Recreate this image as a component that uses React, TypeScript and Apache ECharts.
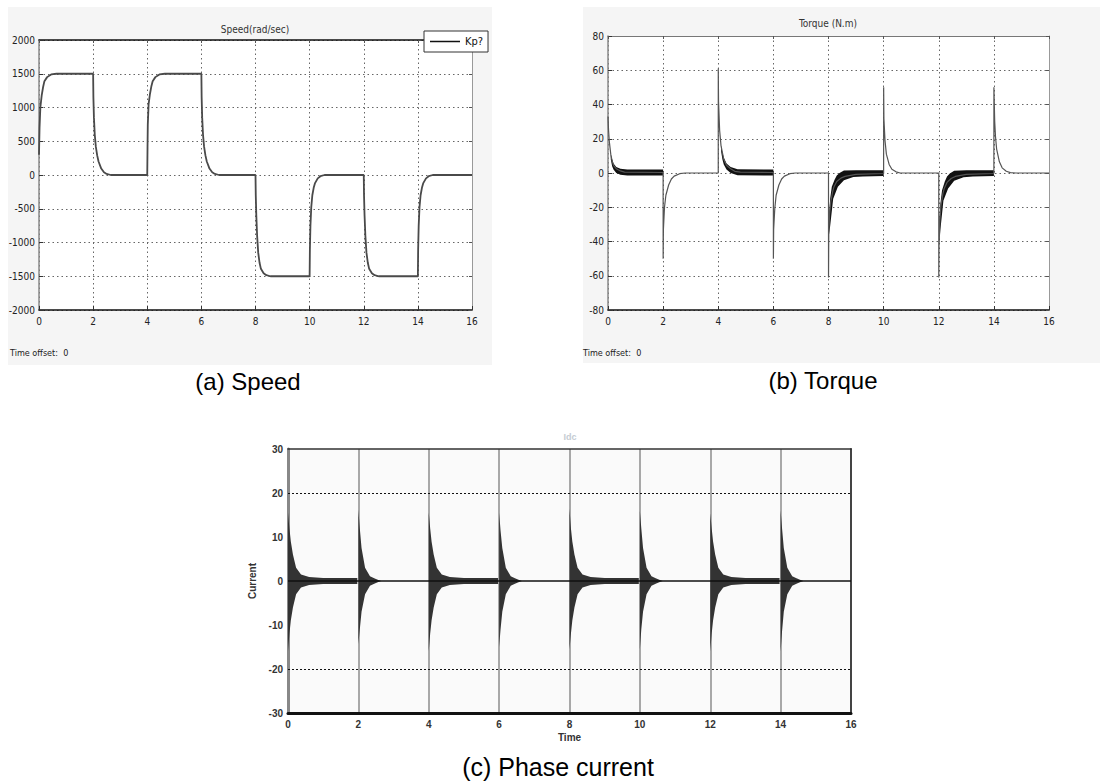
import React, { useEffect, useRef } from "react";
import * as echarts from "echarts";

type Pt = [number, number];

// ---- axis ranges ----
const timeRange = { min: 0, max: 16, step: 2 };
const speedRange = { min: -2000, max: 2000, step: 500 };
const torqueRange = { min: -80, max: 80, step: 20 };
const currentRange = { min: -30, max: 30, step: 10 };

// ---- (a) rotor speed, rad/sec ----
const speedPoints: Pt[] = [
  [0, 300], [0.02, 700], [0.05, 1000], [0.1, 1180], [0.15, 1300], [0.2, 1390], [0.3, 1450], [0.45, 1490], [0.65, 1500], [2.0, 1500],
  [2.01, 1150], [2.03, 850], [2.06, 600], [2.1, 420], [2.15, 290], [2.2, 200], [2.3, 95], [2.4, 40], [2.5, 15], [2.65, 0], [4.0, 0],
  [4.01, 400], [4.02, 750], [4.05, 1050], [4.1, 1200], [4.15, 1310], [4.2, 1390], [4.3, 1450], [4.45, 1490], [4.65, 1500], [6.0, 1500],
  [6.01, 1150], [6.03, 850], [6.06, 600], [6.1, 420], [6.15, 290], [6.2, 200], [6.3, 95], [6.4, 40], [6.5, 15], [6.65, 0], [8.0, 0],
  [8.01, -300], [8.03, -600], [8.06, -900], [8.1, -1150], [8.15, -1300], [8.2, -1390], [8.3, -1455], [8.4, -1485], [8.55, -1500], [10.0, -1500],
  [10.01, -1100], [10.03, -750], [10.06, -480], [10.1, -300], [10.15, -190], [10.2, -120], [10.3, -50], [10.4, -18], [10.55, 0], [12.0, 0],
  [12.01, -300], [12.03, -600], [12.06, -900], [12.1, -1150], [12.15, -1300], [12.2, -1390], [12.3, -1455], [12.4, -1485], [12.55, -1500], [14.0, -1500],
  [14.01, -1100], [14.03, -750], [14.06, -480], [14.1, -300], [14.15, -190], [14.2, -120], [14.3, -50], [14.4, -18], [14.55, 0], [16.0, 0],
];

// ---- (b) electromagnetic torque, N.m ----
const torquePoints: Pt[] = [
  [0, 33], [0.02, 25], [0.05, 18], [0.1, 11], [0.15, 7], [0.2, 4.5], [0.3, 2.5], [0.45, 1.2], [0.6, 0.5], [2.0, 0.3],
  [2.001, -50], [2.01, -33], [2.05, -20], [2.1, -13], [2.2, -7], [2.3, -3.5], [2.4, -1.8], [2.6, -0.4], [2.8, 0], [4.0, 0],
  [4.001, 61], [4.01, 42], [4.05, 25], [4.1, 16], [4.2, 8], [4.3, 4.5], [4.45, 2.5], [4.6, 1], [4.8, 0.5], [6.0, 0.3],
  [6.001, -50], [6.01, -33], [6.05, -21], [6.1, -13], [6.2, -7], [6.3, -3.5], [6.4, -1.8], [6.6, -0.4], [6.8, 0], [8.0, 0],
  [8.001, -61], [8.01, -35], [8.04, -24], [8.08, -17], [8.15, -11], [8.2, -8], [8.3, -5], [8.45, -3], [8.6, -2], [9.0, -0.8], [10.0, -0.3],
  [10.001, 50], [10.01, 32], [10.05, 19], [10.1, 11], [10.2, 5], [10.3, 2.2], [10.45, 0.7], [10.6, 0], [12.0, 0],
  [12.001, -61], [12.01, -42], [12.04, -28], [12.08, -19], [12.15, -12], [12.2, -9], [12.3, -5.5], [12.45, -3.2], [12.6, -2], [13.0, -0.8], [14.0, -0.3],
  [14.001, 50], [14.01, 44], [14.03, 30], [14.06, 21], [14.1, 14], [14.2, 6.5], [14.3, 3], [14.45, 1], [14.6, 0.2], [14.8, 0], [16.0, 0],
];

// torque ripple bands (upper / lower edges) while the motor runs
const torqueRippleUpper: Pt[][] = [
  [[0.1, 11], [0.15, 8], [0.2, 5.5], [0.3, 3.5], [0.45, 2.5], [0.7, 2], [2.0, 2]],
  [[4.1, 16], [4.15, 12], [4.2, 9], [4.3, 5.5], [4.45, 3.5], [4.7, 2.2], [6.0, 2]],
  [[8.02, -25], [8.06, -15], [8.12, -8], [8.22, -4], [8.3, -1.5], [8.4, 0], [8.56, 1.4], [9.0, 1.6], [10.0, 1.6]],
  [[12.02, -30], [12.06, -18], [12.12, -10], [12.22, -5], [12.3, -2], [12.4, -0.3], [12.56, 1.3], [13.0, 1.6], [14.0, 1.6]],
];
const torqueRippleLower: Pt[][] = [
  [[0.1, 8], [0.15, 4], [0.2, 2], [0.3, 0], [0.45, -1], [0.7, -1.5], [2.0, -1.5]],
  [[4.1, 13], [4.15, 8], [4.2, 5], [4.3, 2], [4.45, 0], [4.7, -1.3], [6.0, -1.5]],
  [[8.02, -36], [8.06, -31], [8.17, -15], [8.34, -8], [8.56, -4.3], [8.9, -2.3], [9.24, -2], [10.0, -1.8]],
  [[12.02, -42], [12.06, -33], [12.17, -16], [12.34, -9], [12.56, -4.5], [12.9, -2.5], [13.24, -2], [14.0, -1.8]],
];

// ---- (c) phase current bursts (envelope of the oscillation) ----
const currentBurstUpper: Pt[][] = [
  [[0, 15.5], [0.04, 12], [0.08, 9], [0.14, 6], [0.23, 3], [0.37, 1.5], [0.6, 0.9], [1.0, 0.7], [1.97, 0.7]],
  [[2, 16.2], [2.04, 12], [2.09, 7.5], [2.19, 3], [2.33, 1.1], [2.45, 0.6], [2.55, 0.3], [2.65, 0]],
  [[4, 15.5], [4.04, 12], [4.08, 9], [4.14, 6], [4.23, 3], [4.37, 1.5], [4.6, 0.9], [5.0, 0.7], [5.97, 0.7]],
  [[6, 15.5], [6.04, 11.5], [6.09, 7.5], [6.19, 3], [6.33, 1.1], [6.45, 0.6], [6.55, 0.3], [6.65, 0]],
  [[8, 16.4], [8.04, 12], [8.08, 9], [8.14, 6], [8.23, 3], [8.37, 1.5], [8.6, 0.9], [9.0, 0.7], [9.97, 0.7]],
  [[10, 15.9], [10.04, 12], [10.09, 7.5], [10.19, 3], [10.33, 1.1], [10.45, 0.6], [10.55, 0.3], [10.65, 0]],
  [[12, 15.4], [12.04, 12], [12.08, 9], [12.14, 6], [12.23, 3], [12.37, 1.5], [12.6, 0.9], [13.0, 0.7], [13.97, 0.7]],
  [[14, 16], [14.04, 12], [14.09, 7.5], [14.19, 3], [14.33, 1.1], [14.45, 0.6], [14.55, 0.3], [14.65, 0]],
];
const currentBurstLower: Pt[][] = [
  [[0, -15.9], [0.04, -12], [0.08, -9], [0.14, -6], [0.23, -3], [0.37, -1.5], [0.6, -0.9], [1.0, -0.7], [1.97, -0.7]],
  [[2, -14.3], [2.04, -11], [2.09, -7], [2.19, -3], [2.33, -1.1], [2.45, -0.6], [2.55, -0.3], [2.65, 0]],
  [[4, -15.9], [4.04, -12], [4.08, -9], [4.14, -6], [4.23, -3], [4.37, -1.5], [4.6, -0.9], [5.0, -0.7], [5.97, -0.7]],
  [[6, -15], [6.04, -11], [6.09, -7], [6.19, -3], [6.33, -1.1], [6.45, -0.6], [6.55, -0.3], [6.65, 0]],
  [[8, -15.5], [8.04, -12], [8.08, -9], [8.14, -6], [8.23, -3], [8.37, -1.5], [8.6, -0.9], [9.0, -0.7], [9.97, -0.7]],
  [[10, -15.5], [10.04, -11], [10.09, -7], [10.19, -3], [10.33, -1.1], [10.45, -0.6], [10.55, -0.3], [10.65, 0]],
  [[12, -16], [12.04, -12], [12.08, -9], [12.14, -6], [12.23, -3], [12.37, -1.5], [12.6, -0.9], [13.0, -0.7], [13.97, -0.7]],
  [[14, -16], [14.04, -11.5], [14.09, -7], [14.19, -3], [14.33, -1.1], [14.45, -0.6], [14.55, -0.3], [14.65, 0]],
];
const currentTrace: Pt[] = [[0, 0], [16, 0]];
const currentGuides = [20, -20];

const NARROW = "'DejaVu Sans Condensed', 'Liberation Sans Narrow', 'Arial Narrow', 'Liberation Sans', sans-serif";
const SANS = "'Liberation Sans', Arial, sans-serif";

function bandRenderer(uppers: Pt[][], lowers: Pt[][], fill: string) {
  return (_params: any, api: any) => {
    const i = api.value(2);
    const top = uppers[i].map((p) => api.coord(p));
    const bottom = lowers[i].slice().reverse().map((p) => api.coord(p));
    return {
      type: "polygon",
      shape: { points: top.concat(bottom) },
      style: { fill },
      silent: true,
    };
  };
}

const plain = (v: number) => String(v);
const dotted = { color: "#666", width: 1, type: [1.5, 3] as number[] };

function scopeXAxis(gridIndex: number) {
  return [
    {
      type: "value", gridIndex, min: timeRange.min, max: timeRange.max, interval: timeRange.step,
      axisLine: { onZero: false, lineStyle: { color: "#111", width: 1.5 } },
      axisTick: { inside: true, length: 4, lineStyle: { color: "#333" } },
      axisLabel: { fontSize: 10, color: "#222", fontFamily: NARROW, margin: 6, formatter: plain },
      splitLine: { show: true, lineStyle: dotted },
    },
    {
      type: "value", gridIndex, position: "top", min: timeRange.min, max: timeRange.max, interval: timeRange.step,
      axisLine: { onZero: false, lineStyle: { color: gridIndex === 0 ? "#111" : "#777", width: gridIndex === 0 ? 1.5 : 1 } },
      axisTick: { inside: true, length: 3, lineStyle: { color: "#555" } },
      axisLabel: { show: false }, splitLine: { show: false },
    },
  ];
}

function scopeYAxis(gridIndex: number, r: { min: number; max: number; step: number }) {
  return [
    {
      type: "value", gridIndex, min: r.min, max: r.max, interval: r.step,
      axisLine: { show: true, onZero: false, lineStyle: { color: "#888", width: 1.5 } },
      axisTick: { show: true, inside: true, length: 4, lineStyle: { color: "#333" } },
      axisLabel: { fontSize: 10, color: "#222", fontFamily: NARROW, margin: 4, formatter: plain },
      splitLine: { show: true, lineStyle: dotted },
    },
    {
      type: "value", gridIndex, position: "right", min: r.min, max: r.max, interval: r.step,
      axisLine: { show: true, onZero: false, lineStyle: { color: "#999", width: 1 } },
      axisTick: { show: true, inside: true, length: 3, lineStyle: { color: "#555" } },
      axisLabel: { show: false }, splitLine: { show: false },
    },
  ];
}

const boldLabel = { fontSize: 10, color: "#333", fontWeight: "bold" as const, fontFamily: SANS };

const option: any = {
  animation: false,
  backgroundColor: "#fff",
  grid: [
    { left: 39, top: 40, width: 433, height: 270, show: true, backgroundColor: "#fff", borderWidth: 0 },
    { left: 608, top: 36, width: 441, height: 274, show: true, backgroundColor: "#fff", borderWidth: 0 },
    { left: 288, top: 449, width: 563, height: 264, show: true, backgroundColor: "#fafafa", borderWidth: 0 },
  ],
  xAxis: [
    ...scopeXAxis(0),
    ...scopeXAxis(1),
    {
      type: "value", gridIndex: 2, min: timeRange.min, max: timeRange.max, interval: timeRange.step,
      name: "Time", nameLocation: "middle", nameGap: 19, nameTextStyle: { ...boldLabel },
      axisLine: { onZero: false, lineStyle: { color: "#111", width: 3 } },
      axisTick: { show: false },
      axisLabel: { ...boldLabel, margin: 6, formatter: plain },
      splitLine: { show: true, lineStyle: { color: "#8c8c8c", width: 1.5 } },
    },
    {
      type: "value", gridIndex: 2, position: "top", min: timeRange.min, max: timeRange.max,
      axisLine: { onZero: false, lineStyle: { color: "#333", width: 1.5 } },
      axisTick: { show: false }, axisLabel: { show: false }, splitLine: { show: false },
    },
  ],
  yAxis: [
    ...scopeYAxis(0, speedRange),
    ...scopeYAxis(1, torqueRange),
    {
      type: "value", gridIndex: 2, min: currentRange.min, max: currentRange.max, interval: currentRange.step,
      name: "Current", nameLocation: "middle", nameRotate: 90, nameGap: 28, nameTextStyle: { ...boldLabel },
      axisLine: { show: true, onZero: false, lineStyle: { color: "#888", width: 3 } },
      axisTick: { show: false },
      axisLabel: { ...boldLabel, margin: 5, formatter: plain },
      splitLine: { show: false },
    },
    {
      type: "value", gridIndex: 2, position: "right", min: currentRange.min, max: currentRange.max,
      axisLine: { show: true, onZero: false, lineStyle: { color: "#444", width: 2 } },
      axisTick: { show: false }, axisLabel: { show: false }, splitLine: { show: false },
    },
  ],
  legend: {
    data: ["Kp?"],
    left: 424, top: 31,
    backgroundColor: "#fff", borderColor: "#333", borderWidth: 1,
    padding: [5, 5, 5, 6],
    icon: "rect", itemWidth: 30, itemHeight: 1.5, itemGap: 4,
    itemStyle: { color: "#111" },
    textStyle: { fontSize: 11, color: "#111", fontFamily: NARROW },
  },
  series: [
    {
      name: "Kp?", type: "line", xAxisIndex: 0, yAxisIndex: 0, data: speedPoints,
      showSymbol: false, lineStyle: { color: "#4a4a4a", width: 1.8 }, itemStyle: { color: "#4a4a4a" },
    },
    {
      name: "Torque", type: "line", xAxisIndex: 2, yAxisIndex: 2, data: torquePoints,
      showSymbol: false, lineStyle: { color: "#555", width: 1.2 },
    },
    {
      name: "Torque ripple", type: "custom", xAxisIndex: 2, yAxisIndex: 2,
      data: torqueRippleUpper.map((u, i) => [u[0][0], 0, i]),
      encode: { x: 0, y: 1 },
      renderItem: bandRenderer(torqueRippleUpper, torqueRippleLower, "#111"),
    },
    {
      name: "Phase current", type: "line", xAxisIndex: 4, yAxisIndex: 4, data: currentTrace,
      showSymbol: false, lineStyle: { color: "#111", width: 1.5 },
      markLine: {
        silent: true, symbol: "none", label: { show: false },
        lineStyle: { color: "#111", width: 1, type: [2, 2] },
        data: currentGuides.map((v) => ({ yAxis: v })),
      },
    },
    {
      name: "Phase current bursts", type: "custom", xAxisIndex: 4, yAxisIndex: 4,
      data: currentBurstUpper.map((u, i) => [u[0][0], 0, i]),
      encode: { x: 0, y: 1 },
      renderItem: bandRenderer(currentBurstUpper, currentBurstLower, "#333"),
    },
  ],
  graphic: [
    { type: "rect", z: -10, shape: { x: 8, y: 7, width: 484, height: 358 }, style: { fill: "#f5f5f5" }, silent: true },
    { type: "rect", z: -10, shape: { x: 583, y: 7, width: 517, height: 356 }, style: { fill: "#f5f5f5" }, silent: true },
    { type: "text", x: 255, y: 29, style: { text: "Speed(rad/sec)", font: `10px ${NARROW}`, fill: "#333", textAlign: "center", textVerticalAlign: "middle" } },
    { type: "text", x: 828, y: 23, style: { text: "Torque (N.m)", font: `10px ${NARROW}`, fill: "#333", textAlign: "center", textVerticalAlign: "middle" } },
    { type: "text", x: 10, y: 353, style: { text: "Time offset:  0", font: `9px ${NARROW}`, fill: "#222", textAlign: "left", textVerticalAlign: "middle" } },
    { type: "text", x: 583, y: 353, style: { text: "Time offset:  0", font: `9px ${NARROW}`, fill: "#222", textAlign: "left", textVerticalAlign: "middle" } },
    { type: "text", x: 570, y: 437, style: { text: "Idc", font: `bold 9px ${SANS}`, fill: "#c5ccd3", textAlign: "center", textVerticalAlign: "middle" } },
    { type: "text", x: 248, y: 381, style: { text: "(a) Speed", font: `24px ${SANS}`, fill: "#000", textAlign: "center", textVerticalAlign: "middle" } },
    { type: "text", x: 823, y: 380, style: { text: "(b) Torque", font: `24px ${SANS}`, fill: "#000", textAlign: "center", textVerticalAlign: "middle" } },
    { type: "text", x: 558, y: 767, style: { text: "(c) Phase current", font: `25px ${SANS}`, fill: "#000", textAlign: "center", textVerticalAlign: "middle" } },
  ],
};

export default function App() {
  const ref = useRef<HTMLDivElement>(null);
  useEffect(() => {
    if (!ref.current) return;
    const chart = echarts.init(ref.current, null, { renderer: "svg" });
    chart.setOption(option);
    return () => chart.dispose();
  }, []);
  return (
    <div
      ref={ref}
      style={{ position: "fixed", left: 0, top: 0, width: 1107, height: 783, background: "#fff" }}
    />
  );
}
